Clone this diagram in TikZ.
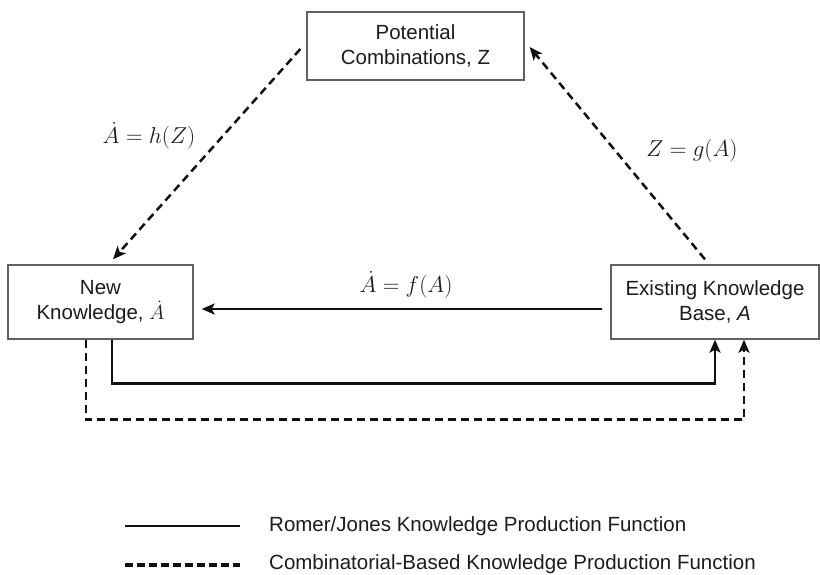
\RequirePackage{fix-cm}
\documentclass[tikz,border=0pt]{standalone}
\usepackage{fontspec}
\setmainfont{Liberation Sans}
\usetikzlibrary{arrows.meta,calc}
\definecolor{linecol}{HTML}{111111}
\definecolor{boxgray}{HTML}{606060}
\definecolor{textgray}{HTML}{1C1C1C}
\begin{document}
\begin{tikzpicture}[x=1pt,y=-1pt,
  box/.style={draw=boxgray, line width=1.3pt, fill=white, align=center,
    font=\fontsize{20.5}{25.5}\selectfont, text=textgray, inner sep=0pt},
  conn/.style={line width=2.5pt, draw=linecol},
  dsh/.style={conn, dash pattern=on 8pt off 5pt},
  tip/.style={-{Stealth[length=13pt,width=11pt,inset=3pt]}},
  lab/.style={font=\fontsize{23}{27}\selectfont, text=textgray},
  legtext/.style={font=\fontsize{20.5}{24}\selectfont, text=textgray, anchor=west, inner sep=0pt}]
\useasboundingbox (0,0) rectangle (820,574);

% boxes
\node[box, minimum width=217pt, minimum height=68pt] (T) at (415.5,46) {Potential\\Combinations, Z};
\node[box, minimum width=185pt, minimum height=74pt] (N) at (100.5,302) {New\\Knowledge, $\dot{A}$};
\node[box, minimum width=208pt, minimum height=74pt] (E) at (715,302) {Existing Knowledge\\Base, \textit{A}};

% labels
\node[lab] (lh) at (149,136) {$\dot{A} = h(Z)$};
\node[lab] (lg) at (692,151) {$Z = g(A)$};
\node[lab] (lf) at (406,285) {$\dot{A} = f(A)$};

% connectors
\draw[conn,tip] ([xshift=-8pt,yshift=-7pt]E.west) -- ([xshift=8pt,yshift=-7pt]N.east);
\draw[dsh,tip] ($(T.west)+(-6,3)$) -- ($(N.north)+(12.5,-5)$);
\draw[dsh,tip] ($(E.north)+(-10,-5)$) -- ($(T.east)+(5,1)$);
\draw[conn,tip] ([xshift=11.5pt]N.south) -- ++(0,44) -| (E.south);
\draw[dsh,tip] ([xshift=-14.5pt]N.south) -- ++(0,80) -| ([xshift=29pt]E.south);

% legend
\coordinate (l1a) at (125,526);
\coordinate (l1b) at (240,526);
\coordinate (l2a) at (125,565);
\coordinate (l2b) at (240,565);
\draw[conn] (l1a) -- (l1b);
\draw[line width=3.2pt, draw=linecol, dash pattern=on 8pt off 4pt] (l2a) -- (l2b);
\node[legtext] (t1) at (269,526) {Romer/Jones Knowledge Production Function};
\node[legtext] (t2) at (269,564) {Combinatorial-Based Knowledge Production Function};
\end{tikzpicture}
\end{document}
